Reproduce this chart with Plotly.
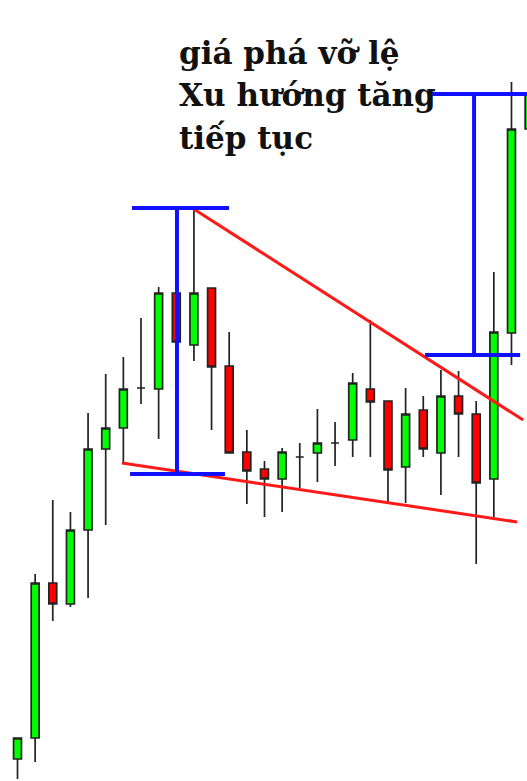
import plotly.graph_objects as go

# Candle data (price units)
idx = list(range(30))
opens  = [22, 43, 198, 177, 251, 332, 353, 393, 392, 488, 436, 493, 415, 329, 312, 302, 324, 328, 338, 341, 392, 380, 314, 371, 328, 385, 367, 302, 448, 652]
highs  = [43, 207, 281, 269, 368, 407, 424, 463, 494, 496, 573, 493, 449, 351, 320, 333, 338, 372, 359, 408, 461, 380, 393, 385, 411, 410, 380, 509, 699, 693]
lows   = [2, 19, 160, 174, 183, 256, 318, 377, 342, 436, 420, 351, 328, 277, 264, 269, 293, 299, 315, 324, 324, 279, 278, 324, 286, 324, 217, 264, 416, 646]
closes = [43, 198, 177, 251, 332, 353, 392, 393, 488, 439, 488, 414, 328, 310, 302, 329, 324, 338, 338, 398, 379, 311, 367, 332, 385, 367, 298, 449, 652, 687]

# Trend lines (x in candle index, y in price)
upper_x = [9.9, 28.66]
upper_y = [573, 361]
lower_x = [5.92, 28.32]
lower_y = [318, 259]

# Measurement lines (blue)
meas_left_top_x = [6.49, 11.99];   meas_left_top_y = [573, 573]
meas_left_vert_x = [9.04, 9.04];   meas_left_vert_y = [573, 308]
meas_left_bot_x = [6.38, 11.76];   meas_left_bot_y = [307, 307]
meas_right_top_x = [23.5, 29.5];   meas_right_top_y = [687, 687]
meas_right_vert_x = [25.88, 25.88]; meas_right_vert_y = [687, 426]
meas_right_bot_x = [23.1, 28.49];  meas_right_bot_y = [426, 426]

text_lines = ["giá phá vỡ lệ", "Xu hướng tăng", "tiếp tục"]

fig = go.Figure()
fig.add_trace(go.Candlestick(
    x=idx, open=opens, high=highs, low=lows, close=closes,
    increasing=dict(line=dict(color="#222222", width=1.7), fillcolor="#00ff00"),
    decreasing=dict(line=dict(color="#222222", width=1.7), fillcolor="#ff0000"),
    whiskerwidth=0, hoverinfo="skip",
))

red = "#ff1a1a"
blue = "#1010ff"
for xs, ys in [(upper_x, upper_y), (lower_x, lower_y)]:
    fig.add_trace(go.Scatter(x=xs, y=ys, mode="lines", line=dict(color=red, width=3), hoverinfo="skip"))
for xs, ys in [(meas_left_top_x, meas_left_top_y), (meas_left_vert_x, meas_left_vert_y),
               (meas_left_bot_x, meas_left_bot_y), (meas_right_top_x, meas_right_top_y),
               (meas_right_vert_x, meas_right_vert_y), (meas_right_bot_x, meas_right_bot_y)]:
    fig.add_trace(go.Scatter(x=xs, y=ys, mode="lines", line=dict(color=blue, width=4), hoverinfo="skip"))

W, H = 527, 781
centers = [53, 95, 138]
for t, cy in zip(text_lines, centers):
    fig.add_annotation(text=t, xref="paper", yref="paper", x=177 / W, y=1 - cy / H,
                       xanchor="left", yanchor="middle", showarrow=False,
                       font=dict(family="DejaVu Serif", size=31, color="#111111", weight="bold"))

fig.update_layout(
    width=W, height=H, margin=dict(l=0, r=0, t=0, b=0),
    paper_bgcolor="white", plot_bgcolor="white", showlegend=False,
    boxgap=0.36, hovermode=False,
    xaxis=dict(range=[-0.992, 28.88], visible=False, rangeslider=dict(visible=False)),
    yaxis=dict(range=[0, 781], visible=False),
)
fig.write_html("out.html", config={"displayModeBar": False, "staticPlot": True},
               post_script="document.body.style.margin='0';document.body.style.overflow='hidden';")
